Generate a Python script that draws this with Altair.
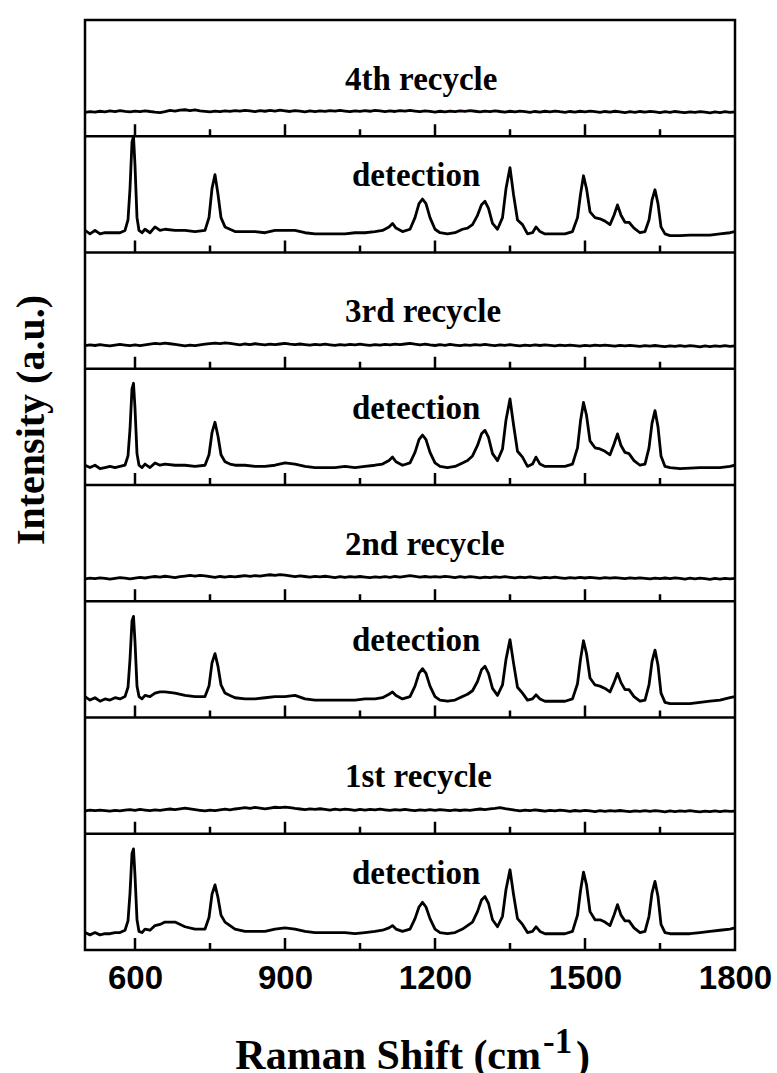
import altair as alt
import pandas as pd

# ---------------- data ----------------
# Raman shift grid used for the four "detection" spectra (denser around the bands)
DET_X = [500, 510, 520, 530, 540, 550, 560, 570, 580, 586, 590, 594, 597, 600, 604, 608,
         614, 620, 630, 640, 650, 660, 680, 700, 720, 740, 748, 754, 760, 766, 772, 780,
         790, 800, 820, 840, 860, 880, 900, 920, 940, 960, 980, 1000, 1020, 1040, 1060,
         1080, 1095, 1108, 1115, 1122, 1135, 1150, 1160, 1168, 1175, 1182, 1190, 1200,
         1210, 1225, 1240, 1255, 1265, 1275, 1285, 1293, 1300, 1307, 1315, 1325, 1335,
         1342, 1350, 1357, 1365, 1375, 1385, 1395, 1402, 1410, 1420, 1440, 1460, 1475,
         1485, 1491, 1497, 1503, 1510, 1520, 1530, 1540, 1550, 1558, 1565, 1572, 1580,
         1588, 1598, 1610, 1620, 1628, 1634, 1640, 1646, 1652, 1660, 1670, 1690, 1710,
         1730, 1750, 1770, 1790, 1800]

# intensities (fraction of one panel's height)
DET4 = [0.19, 0.16, 0.19, 0.16, 0.17, 0.17, 0.17, 0.17, 0.19, 0.28, 0.55, 0.95, 1.00, 0.75, 0.30, 0.19,
        0.17, 0.20, 0.17, 0.22, 0.19, 0.20, 0.19, 0.19, 0.18, 0.19, 0.30, 0.55, 0.67, 0.50, 0.30, 0.22,
        0.20, 0.18, 0.18, 0.18, 0.17, 0.19, 0.19, 0.19, 0.17, 0.16, 0.16, 0.16, 0.16, 0.17, 0.17,
        0.18, 0.19, 0.22, 0.25, 0.21, 0.18, 0.20, 0.30, 0.42, 0.46, 0.42, 0.30, 0.20,
        0.17, 0.16, 0.17, 0.20, 0.21, 0.24, 0.32, 0.41, 0.44, 0.38, 0.25, 0.20, 0.30,
        0.55, 0.73, 0.50, 0.28, 0.24, 0.16, 0.17, 0.22, 0.18, 0.16, 0.16, 0.16, 0.18,
        0.30, 0.50, 0.66, 0.55, 0.35, 0.30, 0.29, 0.27, 0.24, 0.32, 0.41, 0.32, 0.26,
        0.26, 0.21, 0.17, 0.18, 0.28, 0.45, 0.54, 0.42, 0.22, 0.16, 0.145, 0.145, 0.15,
        0.15, 0.15, 0.16, 0.17, 0.18]

DET3 = [0.17, 0.15, 0.17, 0.14, 0.15, 0.16, 0.15, 0.16, 0.17, 0.25, 0.48, 0.83, 0.875, 0.66, 0.27, 0.17,
        0.15, 0.18, 0.15, 0.19, 0.17, 0.18, 0.17, 0.17, 0.16, 0.17, 0.26, 0.45, 0.54, 0.42, 0.26, 0.20,
        0.18, 0.17, 0.17, 0.16, 0.16, 0.17, 0.19, 0.18, 0.16, 0.15, 0.15, 0.15, 0.16, 0.15, 0.16,
        0.17, 0.18, 0.21, 0.24, 0.20, 0.17, 0.19, 0.28, 0.39, 0.43, 0.39, 0.28, 0.19,
        0.16, 0.15, 0.16, 0.19, 0.21, 0.25, 0.34, 0.44, 0.47, 0.41, 0.27, 0.21, 0.31,
        0.56, 0.74, 0.52, 0.29, 0.24, 0.16, 0.18, 0.24, 0.18, 0.16, 0.16, 0.16, 0.18,
        0.32, 0.55, 0.71, 0.60, 0.38, 0.32, 0.31, 0.29, 0.26, 0.35, 0.44, 0.34, 0.28,
        0.27, 0.21, 0.17, 0.18, 0.32, 0.53, 0.64, 0.50, 0.25, 0.16, 0.15, 0.14, 0.145,
        0.15, 0.15, 0.15, 0.16, 0.17]

DET2 = [0.18, 0.15, 0.17, 0.14, 0.16, 0.15, 0.17, 0.16, 0.18, 0.26, 0.50, 0.83, 0.87, 0.65, 0.27, 0.18,
        0.16, 0.19, 0.18, 0.21, 0.22, 0.22, 0.21, 0.19, 0.18, 0.18, 0.27, 0.47, 0.55, 0.44, 0.28, 0.21,
        0.19, 0.17, 0.16, 0.16, 0.17, 0.18, 0.18, 0.19, 0.16, 0.15, 0.15, 0.15, 0.15, 0.15, 0.16,
        0.16, 0.17, 0.20, 0.22, 0.19, 0.16, 0.18, 0.27, 0.38, 0.42, 0.38, 0.27, 0.18,
        0.15, 0.14, 0.15, 0.18, 0.20, 0.23, 0.31, 0.41, 0.44, 0.38, 0.25, 0.19, 0.28,
        0.50, 0.67, 0.47, 0.26, 0.21, 0.15, 0.16, 0.195, 0.16, 0.14, 0.14, 0.14, 0.16,
        0.29, 0.50, 0.66, 0.55, 0.34, 0.28, 0.27, 0.25, 0.22, 0.30, 0.38, 0.30, 0.24,
        0.24, 0.18, 0.14, 0.15, 0.28, 0.48, 0.58, 0.45, 0.21, 0.13, 0.12, 0.12, 0.12,
        0.13, 0.14, 0.15, 0.17, 0.18]

DET1 = [0.15, 0.13, 0.15, 0.13, 0.14, 0.14, 0.15, 0.15, 0.17, 0.25, 0.49, 0.83, 0.87, 0.64, 0.26, 0.16,
        0.15, 0.18, 0.17, 0.21, 0.22, 0.24, 0.24, 0.20, 0.18, 0.18, 0.28, 0.48, 0.56, 0.45, 0.30, 0.24,
        0.21, 0.18, 0.16, 0.16, 0.16, 0.18, 0.19, 0.18, 0.16, 0.15, 0.15, 0.15, 0.15, 0.14, 0.15,
        0.16, 0.17, 0.19, 0.21, 0.18, 0.16, 0.18, 0.27, 0.37, 0.41, 0.37, 0.27, 0.18,
        0.15, 0.14, 0.15, 0.18, 0.21, 0.24, 0.33, 0.43, 0.46, 0.40, 0.26, 0.20, 0.29,
        0.52, 0.69, 0.48, 0.27, 0.22, 0.15, 0.16, 0.20, 0.16, 0.14, 0.14, 0.14, 0.16,
        0.30, 0.51, 0.67, 0.56, 0.33, 0.26, 0.26, 0.24, 0.21, 0.30, 0.39, 0.30, 0.25,
        0.25, 0.19, 0.15, 0.16, 0.29, 0.49, 0.59, 0.46, 0.22, 0.15, 0.14, 0.14, 0.14,
        0.15, 0.16, 0.17, 0.18, 0.19]

# Raman shift grid for the "recycle" spectra
REC_X = list(range(500, 1801, 10))

REC4 = [.205, .212, .208, .215, .210, .218, .212, .220, .214, .209,
        .216, .211, .219, .213, .208, .204, .212, .222, .217, .225,
        .228, .221, .226, .219, .214, .209, .216, .211, .219, .214,
        .221, .216, .223, .218, .212, .220, .215, .222, .217, .224,
        .219, .213, .221, .216, .210, .218, .212, .219, .214, .221,
        .216, .222, .217, .211, .219, .214, .220, .215, .223, .218,
        .212, .219, .213, .221, .216, .222, .217, .211, .219, .214,
        .208, .215, .210, .217, .212, .219, .214, .220, .215, .210,
        .217, .212, .219, .213, .208, .215, .210, .217, .212, .206,
        .213, .208, .215, .210, .217, .211, .206, .213, .208, .215,
        .210, .216, .211, .206, .213, .208, .215, .210, .204, .211,
        .206, .213, .208, .214, .209, .204, .211, .206, .213, .208,
        .203, .210, .205, .212, .207, .202, .209, .204, .211, .206,
        .210]

REC3 = [.198, .205, .200, .207, .202, .196, .203, .209, .204, .198,
        .205, .199, .206, .212, .218, .214, .220, .215, .209, .203,
        .197, .204, .199, .206, .211, .216, .221, .217, .223, .218,
        .212, .206, .213, .208, .215, .210, .205, .212, .207, .213,
        .218, .212, .207, .213, .208, .203, .210, .205, .211, .206,
        .201, .208, .203, .210, .205, .211, .206, .201, .208, .203,
        .210, .205, .212, .207, .213, .219, .212, .206, .211, .205,
        .200, .207, .202, .209, .204, .199, .206, .201, .208, .203,
        .209, .204, .199, .206, .201, .207, .202, .197, .204, .199,
        .205, .200, .206, .201, .196, .203, .198, .204, .199, .194,
        .201, .196, .203, .198, .204, .199, .194, .201, .196, .202,
        .197, .192, .199, .194, .200, .195, .190, .197, .192, .198,
        .193, .199, .194, .189, .196, .191, .197, .192, .198, .193,
        .196]

REC2 = [.192, .199, .194, .201, .196, .190, .197, .203, .198, .192,
        .199, .205, .200, .207, .213, .208, .215, .210, .204, .211,
        .217, .222, .216, .223, .218, .212, .206, .213, .208, .214,
        .209, .215, .220, .214, .221, .216, .222, .228, .223, .229,
        .224, .218, .212, .219, .213, .207, .214, .209, .215, .210,
        .204, .211, .206, .212, .207, .213, .208, .203, .210, .205,
        .211, .206, .213, .208, .214, .220, .214, .208, .213, .207,
        .212, .207, .214, .209, .204, .211, .206, .212, .207, .201,
        .208, .203, .210, .205, .211, .206, .201, .208, .203, .209,
        .204, .199, .206, .201, .207, .202, .197, .204, .199, .205,
        .200, .206, .201, .196, .203, .198, .204, .199, .194, .201,
        .196, .202, .197, .192, .199, .194, .200, .195, .201, .196,
        .191, .198, .193, .199, .194, .189, .196, .191, .197, .192,
        .197]

REC1 = [.196, .203, .198, .204, .199, .194, .201, .196, .203, .208,
        .202, .209, .204, .199, .206, .201, .207, .213, .208, .214,
        .220, .214, .208, .202, .196, .203, .198, .205, .211, .206,
        .213, .219, .225, .219, .226, .220, .214, .221, .228, .224,
        .230, .224, .218, .213, .207, .214, .209, .215, .210, .204,
        .211, .206, .212, .207, .202, .209, .204, .210, .205, .211,
        .206, .201, .208, .203, .209, .204, .199, .206, .201, .207,
        .202, .208, .203, .198, .205, .200, .206, .201, .207, .213,
        .208, .214, .219, .225, .217, .210, .203, .197, .204, .199,
        .205, .200, .195, .202, .197, .203, .198, .193, .200, .195,
        .201, .196, .191, .198, .193, .199, .194, .200, .195, .190,
        .197, .192, .198, .193, .199, .194, .189, .196, .191, .197,
        .192, .198, .193, .188, .195, .190, .196, .191, .197, .192,
        .195]

# panels from bottom to top
PANEL_LABELS = ["detection", "1st recycle", "detection", "2nd recycle",
                "detection", "3rd recycle", "detection", "4th recycle"]
PANEL_SERIES = [(DET_X, DET1), (REC_X, REC1), (DET_X, DET2), (REC_X, REC2),
                (DET_X, DET3), (REC_X, REC3), (DET_X, DET4), (REC_X, REC4)]

MAJOR_TICKS = [600, 900, 1200, 1500, 1800]
MINOR_TICKS = [750, 1050, 1350, 1650]
X_DOMAIN = [500, 1800]

# ---------------- layout constants ----------------
W, H = 650, 930
N = len(PANEL_LABELS)
UNIT_PX = H / N
MAJOR_LEN = 12 / UNIT_PX
MINOR_LEN = 7 / UNIT_PX
LABEL_X = {"recycle": 1020, "detection": 1034}
LABEL_FRAC = {"recycle": 0.40, "detection": 0.57}

rows = []
for k, (xs, ys) in enumerate(PANEL_SERIES):
    assert len(xs) == len(ys)
    for x, y in zip(xs, ys):
        rows.append({"shift": x, "y": k + y, "series": f"s{k}"})
spec_df = pd.DataFrame(rows)

lab_rows = []
for k, lab in enumerate(PANEL_LABELS):
    kind = "detection" if lab == "detection" else "recycle"
    lab_rows.append({"label": lab, "x": LABEL_X[kind], "y": k + LABEL_FRAC[kind]})
lab_df = pd.DataFrame(lab_rows)

tick_rows = []
for k in range(N):
    for t in MAJOR_TICKS[:-1]:
        tick_rows.append({"x": t, "y": k, "y2": k + MAJOR_LEN})
    for t in MINOR_TICKS:
        tick_rows.append({"x": t, "y": k, "y2": k + MINOR_LEN})
tick_df = pd.DataFrame(tick_rows)

sep_df = pd.DataFrame({"y": list(range(1, N))})

xscale = alt.Scale(domain=X_DOMAIN, nice=False, zero=False)
yscale = alt.Scale(domain=[0, N], nice=False, zero=False)

lines = alt.Chart(spec_df).mark_line(color="black", strokeWidth=2.8, clip=True,
                                     strokeJoin="round").encode(
    x=alt.X("shift:Q", scale=xscale,
            axis=alt.Axis(values=MAJOR_TICKS, format="d", ticks=False, domain=False, grid=False,
                          labelFont="Liberation Sans", labelFontWeight="bold",
                          labelFontSize=33, labelColor="black", labelPadding=12,
                          labelFlush=False, labelOverlap=False, title=None)),
    y=alt.Y("y:Q", scale=yscale, axis=None),
    detail="series:N",
    order="shift:Q",
)

frame = alt.Chart(pd.DataFrame({"f": [0]})).mark_rect(
    fill=None, fillOpacity=0, stroke="black", strokeWidth=2.5
).encode(x=alt.value(0), x2=alt.value(W), y=alt.value(0), y2=alt.value(H))

seps = alt.Chart(sep_df).mark_rule(color="black", strokeWidth=2.5).encode(
    y=alt.Y("y:Q", scale=yscale),
    x=alt.value(0), x2=alt.value(W),
)

ticks = alt.Chart(tick_df).mark_rule(color="black", strokeWidth=2.5).encode(
    x=alt.X("x:Q", scale=xscale),
    y=alt.Y("y:Q", scale=yscale),
    y2="y2:Q",
)

labels = alt.Chart(lab_df).mark_text(
    font="Liberation Serif", fontWeight="bold", fontSize=33, align="left",
    baseline="alphabetic", color="black"
).encode(
    x=alt.X("x:Q", scale=xscale),
    y=alt.Y("y:Q", scale=yscale),
    text="label:N",
)

ytitle = alt.Chart(pd.DataFrame({"t": ["Intensity (a.u.)"]})).mark_text(
    font="Liberation Serif", fontWeight="bold", fontSize=40, angle=270,
    align="center", baseline="middle", color="black"
).encode(x=alt.value(-53), y=alt.value(400), text="t:N")

xt_main = alt.Chart(pd.DataFrame({"t": ["Raman Shift (cm"]})).mark_text(
    font="Liberation Serif", fontWeight="bold", fontSize=42, align="right",
    baseline="alphabetic", color="black"
).encode(x=alt.value(456), y=alt.value(1049), text="t:N")

xt_sup = alt.Chart(pd.DataFrame({"t": ["-1"]})).mark_text(
    font="Liberation Serif", fontWeight="bold", fontSize=35, align="left",
    baseline="alphabetic", color="black"
).encode(x=alt.value(458), y=alt.value(1033), text="t:N")

xt_close = alt.Chart(pd.DataFrame({"t": [")"]})).mark_text(
    font="Liberation Serif", fontWeight="bold", fontSize=42, align="left",
    baseline="alphabetic", color="black"
).encode(x=alt.value(491), y=alt.value(1050), text="t:N")

chart = alt.layer(lines, frame, seps, ticks, labels, ytitle, xt_main, xt_sup, xt_close).properties(
    width=W, height=H,
    autosize=alt.AutoSizeParams(type="none"),
    padding={"left": 85, "top": 20, "right": 42, "bottom": 123},
).configure_view(stroke=None).configure(background="white")

chart.save("out.html", embed_options={"renderer": "svg", "actions": False})
